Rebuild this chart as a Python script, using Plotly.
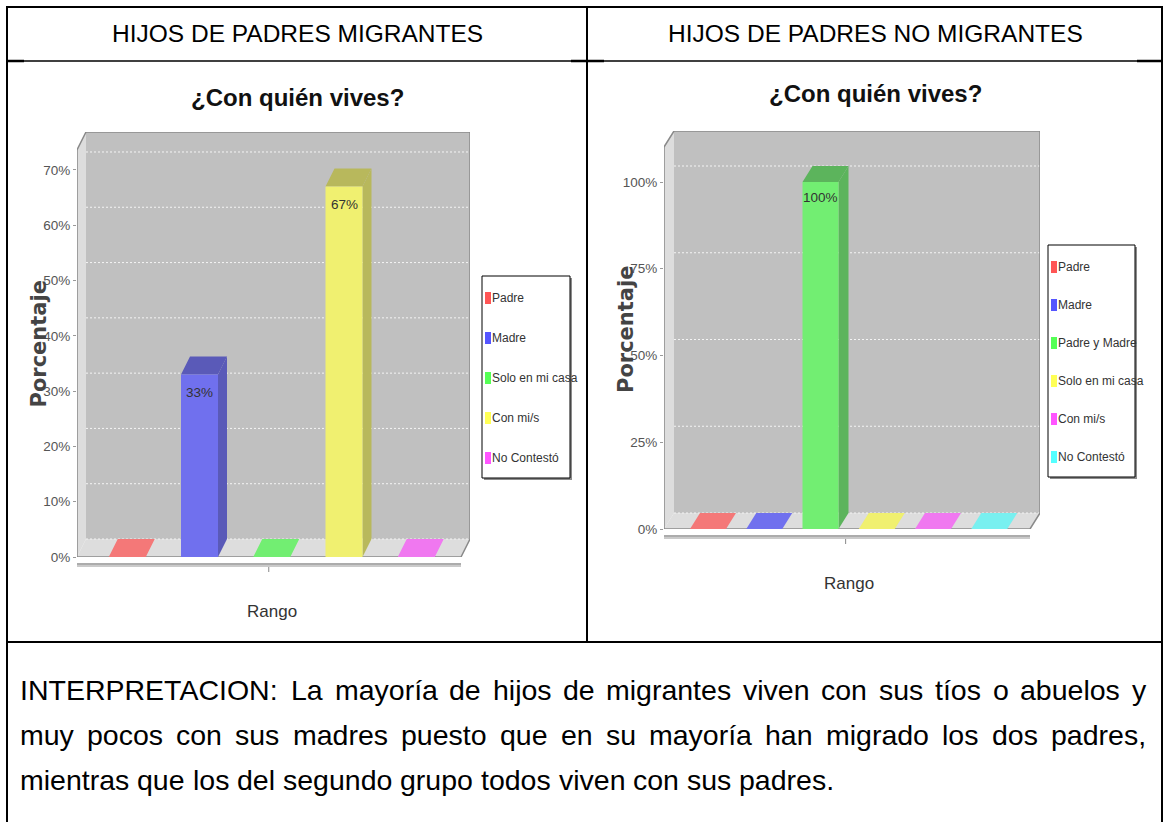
import plotly.graph_objects as go

# the photographed page comes out squeezed to 822/830 vertically, so the figure is
# 830 px tall while every position below is given in reference pixels (822 tall)
W, H = 1164, 822
FIG_H = 830

# ---------------- data ----------------
left_series = ["Padre", "Madre", "Solo en mi casa", "Con mi/s", "No Contestó"]
left_pct = [0, 33, 0, 67, 0]
left_ticks = [0, 10, 20, 30, 40, 50, 60, 70]

right_series = ["Padre", "Madre", "Padre y Madre", "Solo en mi casa", "Con mi/s", "No Contestó"]
right_pct = [0, 0, 100, 0, 0, 0]
right_ticks = [0, 25, 50, 75, 100]

col_headers = ["HIJOS DE PADRES MIGRANTES", "HIJOS DE PADRES NO MIGRANTES"]
chart_title = "¿Con quién vives?"
y_title = "Porcentaje"
x_title = "Rango"
interp_lines = [
    "INTERPRETACION: La mayoría de hijos de migrantes viven con sus tíos o abuelos y",
    "muy pocos con sus madres puesto que en su mayoría han migrado los dos padres,",
    "mientras que los del segundo grupo todos viven con sus padres.",
]

# series paints: front face, shaded faces, legend swatch
FRONT = ["#F47878", "#7070EE", "#72EE72", "#F0F070", "#F078F0", "#78F0F0"]
SHADE = ["#B85C5C", "#5A5AB8", "#5CB45C", "#B8B85C", "#B85CB8", "#5CB8B8"]
SWATCH = ["#FF5555", "#5555FF", "#55FF55", "#FFFF55", "#FF55FF", "#55FFFF"]

SANS = "Liberation Sans, Arial, sans-serif"
INK = "#444444"

# Arial advance widths (1/1000 em), used to justify the paragraph
AW = {" ": 278, ",": 278, ".": 278, ":": 278, "/": 278,
      "a": 556, "b": 556, "c": 500, "d": 556, "e": 556, "f": 278, "g": 556, "h": 556,
      "i": 222, "j": 222, "k": 500, "l": 222, "m": 833, "n": 556, "o": 556, "p": 556,
      "q": 556, "r": 333, "s": 500, "t": 278, "u": 556, "v": 500, "w": 722, "x": 500,
      "y": 500, "z": 500, "í": 278, "á": 556, "é": 556, "ó": 556, "ú": 556,
      "A": 667, "C": 722, "D": 722, "E": 667, "I": 278, "N": 722, "O": 778, "P": 667,
      "R": 722, "T": 611}


def px(x):
    return x / W


def py(y):
    return 1 - y / H


def text_w(s, size):
    return sum(AW.get(ch, 556) for ch in s) * size / 1000


def poly(pts):
    return "M " + " L ".join(f"{x},{y}" for x, y in pts) + " Z"


def note(x, y, text, size, color="black", family=SANS, xa="center", **kw):
    notes.append(dict(x=px(x), y=py(y), xref="paper", yref="paper", text=text,
                      showarrow=False, xanchor=xa, yanchor="middle", borderpad=0,
                      borderwidth=0, font=dict(family=family, size=size, color=color), **kw))


fig = go.Figure()
shapes = []
notes = []


def add_chart(idx, names, pct, ticks, g):
    xr, yr = ("x", "y") if idx == 1 else (f"x{idx}", f"y{idx}")
    ux, uy = g["ux"], g["uy"]
    x_lo = (g["left"] - g["c0"]) / ux
    x_fr = (g["front_right"] - g["c0"]) / ux
    dxu, dyu = g["dx"] / ux, g["dy"] / uy
    x_hi = x_fr + dxu
    top_f = (g["y0"] - g["top"]) / uy
    y_hi = top_f + dyu
    bw = g["bw"] / ux

    fig.update_layout({
        ("xaxis" if idx == 1 else f"xaxis{idx}"): dict(
            domain=[px(g["left"]), px(g["front_right"] + g["dx"])],
            range=[x_lo, x_hi], visible=False, fixedrange=True),
        ("yaxis" if idx == 1 else f"yaxis{idx}"): dict(
            domain=[py(g["y0"]), py(g["top"] - g["dy"])],
            range=[0, y_hi], anchor=xr, showgrid=False, zeroline=False, showline=False,
            tickvals=ticks, ticktext=[f"{t}%" for t in ticks],
            ticks="outside", ticklen=3, tickcolor="#999999",
            tickfont=dict(family=SANS, size=13.5, color="#555555"), fixedrange=True),
    })

    def sh(path, fill):
        shapes.append(dict(type="path", path=path, xref=xr, yref=yr, layer="below",
                           fillcolor=fill, line=dict(color=fill, width=0)))

    # walls and floor
    sh(poly([(x_lo + dxu, dyu), (x_hi, dyu), (x_hi, y_hi), (x_lo + dxu, y_hi)]), "#C0C0C0")
    sh(poly([(x_lo, 0), (x_lo + dxu, dyu), (x_lo + dxu, y_hi), (x_lo, top_f)]), "#DDDDDD")
    sh(poly([(x_lo, 0), (x_fr, 0), (x_hi, dyu), (x_lo + dxu, dyu)]), "#DDDDDD")
    for t in ticks:
        shapes.append(dict(type="line", xref=xr, yref=yr, layer="below",
                           x0=x_lo + dxu, x1=x_hi, y0=t + dyu, y1=t + dyu,
                           line=dict(color="#F4F4F4", width=1, dash="2px,2px")))
    # outline
    shapes.append(dict(type="path", xref=xr, yref=yr, layer="below",
                       path=f"M {x_lo},{top_f} L {x_lo + dxu},{y_hi} L {x_hi},{y_hi} "
                            f"L {x_hi},{dyu} L {x_fr},0 L {x_lo},0",
                       line=dict(color="#8A8A8A", width=1.5)))
    shapes.append(dict(type="line", xref=xr, yref=yr, layer="below",
                       x0=x_lo, x1=x_lo, y0=0, y1=top_f, line=dict(color="#888888", width=1.5)))

    # 3D faces of bars
    for i, v in enumerate(pct):
        a, b = i - bw / 2, i + bw / 2
        if v > 0:
            sh(poly([(b, 0), (b + dxu, dyu), (b + dxu, v + dyu), (b, v)]), SHADE[i])
            sh(poly([(a, v), (a + dxu, v + dyu), (b + dxu, v + dyu), (b, v)]), SHADE[i])
            notes.append(dict(x=i, y=v, xref=xr, yref=yr, yshift=-g["lab"], text=f"{v}%",
                              xanchor="center", yanchor="middle", showarrow=False,
                              font=dict(family=SANS, size=13.5, color="#333333")))
        else:
            sh(poly([(a, 0), (a + dxu, dyu), (b + dxu, dyu), (b, 0)]), FRONT[i])

    fig.add_trace(go.Bar(x=list(range(len(pct))), y=pct, width=bw, xaxis=xr, yaxis=yr,
                         marker=dict(color=FRONT[:len(pct)], line=dict(width=0)),
                         showlegend=False, hoverinfo="skip"))

    # category axis below the floor
    y0 = g["y0"]
    for dy_, col in [(7, "#909090"), (9, "#B8B8B8")]:
        shapes.append(dict(type="line", xref="paper", yref="paper", x0=px(g["left"]),
                           x1=px(g["front_right"]), y0=py(y0 + dy_), y1=py(y0 + dy_),
                           line=dict(color=col, width=1.5)))
    cx = g["c0"] + ux * (len(pct) - 1) / 2
    shapes.append(dict(type="line", xref="paper", yref="paper", x0=px(cx - 3), x1=px(cx - 3),
                       y0=py(y0 + 10), y1=py(y0 + 15), line=dict(color="#888888", width=1)))
    note(cx, y0 + 54, x_title, 17, "#333333")
    note(g["left"] - 38, (y0 + g["top"] - g["dy"]) / 2, f"<b>{y_title}</b>", 21, INK,
         family="DejaVu Sans", textangle=-90)
    note(g["col_c"], g["title_y"], f"<b>{chart_title}</b>", 24, "#111111")

    # legend
    lx0, ly0, lx1, ly1 = g["leg"]
    shapes.append(dict(type="rect", xref="paper", yref="paper", x0=px(lx0 + 2), x1=px(lx1 + 2),
                       y0=py(ly1 + 2), y1=py(ly0 + 2), fillcolor="#8C8C8C", line=dict(width=0)))
    shapes.append(dict(type="rect", xref="paper", yref="paper", x0=px(lx0), x1=px(lx1),
                       y0=py(ly1), y1=py(ly0), fillcolor="white", line=dict(color="black", width=1)))
    step = (ly1 - ly0 - 42) / (len(names) - 1)
    for i, name in enumerate(names):
        yc = ly0 + 22 + i * step
        shapes.append(dict(type="rect", xref="paper", yref="paper", x0=px(lx0 + 3), x1=px(lx0 + 9),
                           y0=py(yc + 6), y1=py(yc - 6), fillcolor=SWATCH[i], line=dict(width=0)))
        note(lx0 + 10, yc, name, 12, "#333333", xa="left")


add_chart(1, left_series, left_pct, left_ticks,
          dict(c0=127.25, ux=72.25, y0=557, uy=5.529, left=77, front_right=461, top=150,
               dx=9, dy=18, bw=37, lab=18, col_c=297, title_y=98, leg=(482, 276, 570, 478)))
add_chart(2, right_series, right_pct, right_ticks,
          dict(c0=708, ux=56.25, y0=529, uy=3.47, left=664, front_right=1030, top=147,
               dx=10, dy=16, bw=36, lab=16, col_c=875, title_y=93, leg=(1048, 245, 1135, 477)))

# ---------------- table frame ----------------
def hline(y, x0, x1, w):
    shapes.append(dict(type="line", xref="paper", yref="paper", x0=px(x0), x1=px(x1),
                       y0=py(y), y1=py(y), line=dict(color="black", width=w)))


def vline(x, y0, y1, w):
    shapes.append(dict(type="line", xref="paper", yref="paper", x0=px(x), x1=px(x),
                       y0=py(y0), y1=py(y1), line=dict(color="black", width=w)))


hline(7, 6, 1163, 2)
hline(61, 6, 1163, 1.3)
hline(642, 6, 1163, 2)
for a, b in [(6, 24), (571, 604), (1137, 1163)]:
    hline(61, a, b, 2.5)
vline(7, 6, H, 2)
vline(587, 6, 642, 2)
vline(1162, 6, H, 2)

for text, cx in zip(col_headers, [297, 875]):
    note(cx, 34, text, 24.5)

# justified paragraph
FS = 28.5
for k, line in enumerate(interp_lines):
    words = line.split(" ")
    widths = [text_w(w, FS) for w in words]
    if k < len(interp_lines) - 1:
        gap = (1146 - 20 - sum(widths)) / (len(words) - 1)
    else:
        gap = text_w(" ", FS)
    x = 20
    for w, wd in zip(words, widths):
        note(x, 690 + 45 * k, w, FS, xa="left")
        x += wd + gap

fig.update_layout(
    width=W, height=FIG_H, margin=dict(l=0, r=0, t=0, b=0),
    paper_bgcolor="white", plot_bgcolor="rgba(0,0,0,0)",
    showlegend=False, shapes=shapes, annotations=notes,
)

# drop the default body margin so the figure sits at the window's top-left corner
fig.write_html("out.html", config={"displayModeBar": False},
               post_script="document.body.style.margin = '0';")
